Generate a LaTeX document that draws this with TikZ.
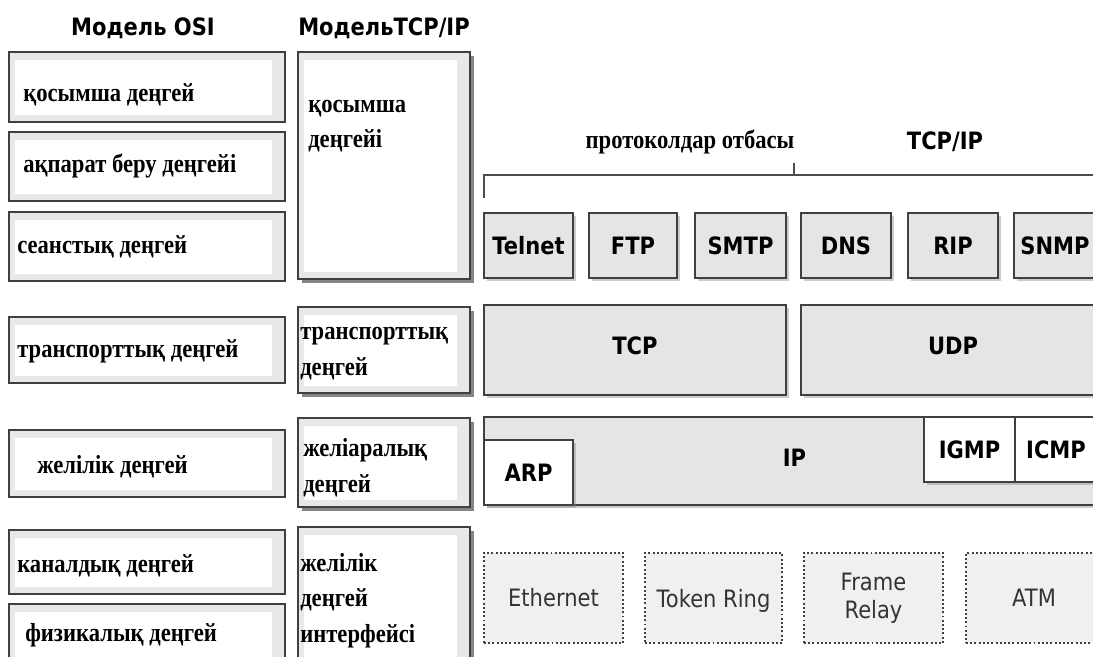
\documentclass[tikz,border=0pt]{standalone}
\usepackage{fontspec}
\setmainfont{Liberation Serif}[FakeStretch=0.87]
\newfontfamily\labfont{DejaVu Sans}[FakeStretch=0.88]
\usetikzlibrary{fit, shadows}

\begin{document}
\begin{tikzpicture}[x=0.025cm, y=-0.025cm,
                osibox/.style={draw=black!75, line width=1.5pt, fill=gray!18, inner sep=0pt,
                               path picture={\fill[white] ([shift={(4pt,-6pt)}]path picture bounding box.north west)
                                   rectangle ([shift={(-9pt,5pt)}]path picture bounding box.south east);}},
                tcpbox/.style={osibox, drop shadow={shadow xshift=3pt, shadow yshift=-3pt, fill=black!80, opacity=0.6}},
                kz/.style={font=\fontsize{18.5}{25}\selectfont\bfseries, anchor=base west, inner sep=0pt, align=left},
                head/.style={font=\labfont\fontsize{17}{20}\selectfont\bfseries, inner sep=0pt},
                lab/.style={font=\labfont\fontsize{17}{20}\selectfont\bfseries, inner sep=0pt, align=center},
                netlab/.style={font=\labfont\fontsize{17}{20}\selectfont, text=black!80, inner sep=0pt, align=center},
                proto/.style={draw=black!75, line width=1.3pt, fill=gray!20, inner sep=0pt,
                              drop shadow={shadow xshift=2pt, shadow yshift=-2pt, fill=black!50, opacity=0.4}},
                plain/.style={proto, fill=white},
                netbox/.style={draw=black!75, line width=1.3pt, dash pattern=on 1.4pt off 1.6pt, fill=gray!12,
                               inner sep=0pt},
                bracket/.style={draw=black!70, line width=0.8pt}]

                \useasboundingbox (0,0) rectangle (1093,657);
                \clip (0,0) rectangle (1093,657);

                % Headers
                \node[head] (osihead) at (143,28) {Модель OSI};
                \node[head] (tcphead) at (384,28) {МодельTCP/IP};

                % OSI model - left column
                \node[osibox, fit={(9,52) (285,122)}] (osi1) {};
                \node[osibox, fit={(9,132) (285,201)}] (osi2) {};
                \node[osibox, fit={(9,212) (285,281)}] (osi3) {};
                \node[osibox, fit={(9,317) (285,383)}] (osi4) {};
                \node[osibox, fit={(9,430) (285,497)}] (osi5) {};
                \node[osibox, fit={(9,530) (285,594)}] (osi6) {};
                \node[osibox, fit={(9,604) (285,680)}] (osi7) {};
                \node[kz] (osit1) at (23,102) {қосымша деңгей};
                \node[kz] (osit2) at (23,172) {ақпарат беру деңгейі};
                \node[kz] (osit3) at (17,253) {сеанстық деңгей};
                \node[kz] (osit4) at (17,357) {транспорттық деңгей};
                \node[kz] (osit5) at (37,473) {желілік деңгей};
                \node[kz] (osit6) at (17,572) {каналдық деңгей};
                \node[kz] (osit7) at (25,641) {физикалық деңгей};

                % TCP/IP model - second column (base = last line)
                \node[tcpbox, fit={(298,52) (470,279)}] (app) {};
                \node[tcpbox, fit={(298,307) (470,393)}] (trans) {};
                \node[tcpbox, fit={(298,418) (470,507)}] (inet) {};
                \node[tcpbox, fit={(298,527) (470,690)}] (link) {};
                \node[kz] (appt) at (308,148) {қосымша\\деңгейі};
                \node[kz] (transt) at (300,375) {транспорттық\\деңгей};
                \node[kz] (inett) at (303,492) {желіаралық\\деңгей};
                \node[kz] (linkt) at (300,642) {желілік\\деңгей\\интерфейсі};

                % Protocol family bracket
                \node[kz, anchor=center] (family) at (690,142) {протоколдар отбасы};
                \node[head] (famtcp) at (945,142) {TCP/IP};
                \coordinate (bl) at (484,198);
                \coordinate (br) at (1100,175);
                \coordinate (bm) at (794,163);
                \draw[bracket] (bl) |- (br);
                \draw[bracket] (bm) -- (bm |- br);

                % Application protocols
                \node[proto, fit={(484,213) (573,278)}, label={[lab]center:Telnet}] (telnet) {};
                \node[proto, fit={(589,213) (677,278)}, label={[lab]center:FTP}] (ftp) {};
                \node[proto, fit={(695,213) (786,278)}, label={[lab]center:SMTP}] (smtp) {};
                \node[proto, fit={(801,213) (891,278)}, label={[lab]center:DNS}] (dns) {};
                \node[proto, fit={(908,213) (998,278)}, label={[lab]center:RIP}] (rip) {};
                \node[proto, fit={(1014,213) (1096,278)}, label={[lab]center:SNMP}] (snmp) {};

                % Transport
                \node[proto, fit={(484,305) (786,395)}, label={[lab, yshift=3pt]center:TCP}] (tcp) {};
                \node[proto, fit={(801,305) (1105,395)}, label={[lab, yshift=3pt]center:UDP}] (udp) {};

                % Internet
                \node[proto, fit={(484,417) (1105,505)}, label={[lab, yshift=2pt]center:IP}] (ip) {};
                \node[plain, fit={(484,440) (573,505)}, label={[lab]center:ARP}] (arp) {};
                \node[plain, fit={(924,417) (1015,482)}, label={[lab]center:IGMP}] (igmp) {};
                \node[plain, fit={(1015,417) (1097,482)}, label={[lab]center:ICMP}] (icmp) {};

                % Network interfaces
                \node[netbox, fit={(484,553) (623,643)}, label={[netlab]center:Ethernet}] (eth) {};
                \node[netbox, fit={(645,553) (782,643)}, label={[netlab, yshift=-2pt]center:Token Ring}] (token) {};
                \node[netbox, fit={(804,553) (943,643)}, label={[netlab]center:Frame\\Relay}] (frame) {};
                \node[netbox, fit={(966,553) (1102,643)}, label={[netlab]center:ATM}] (atm) {};
            \end{tikzpicture}
\end{document}
